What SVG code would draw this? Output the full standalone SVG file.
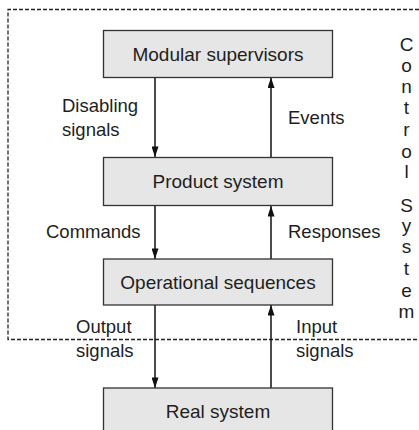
<svg xmlns="http://www.w3.org/2000/svg" width="419" height="430" viewBox="0 0 419 430">
<style>
.box{fill:#e6e6e6;stroke:#333;stroke-width:1.3}
.bt{font-family:"Liberation Sans",Arial,sans-serif;font-size:19px;fill:#1e1e1e;text-anchor:middle}
.lb{font-family:"Liberation Sans",Arial,sans-serif;font-size:18.5px;fill:#1e1e1e}
.vt{font-family:"Liberation Sans",Arial,sans-serif;font-size:19px;fill:#1e1e1e;text-anchor:middle}
.ar{stroke:#111;stroke-width:1.5;fill:none}
.frame{fill:none;stroke:#222;stroke-width:1.3;stroke-dasharray:4 2}
</style>
<defs>
<marker id="ah" viewBox="0 0 12 8" refX="12" refY="4" markerWidth="12" markerHeight="7" markerUnits="userSpaceOnUse" orient="auto">
<path d="M0,0 L12,4 L0,8 Z" fill="#111"/>
</marker>
</defs>
<g id="control-system">
<path class="frame" d="M425,9.5 H8 V339.5 H425"/>
<text class="vt" x="406.5" y="51">C</text>
<text class="vt" x="406.5" y="72">o</text>
<text class="vt" x="406.5" y="93">n</text>
<text class="vt" x="406.5" y="114">t</text>
<text class="vt" x="406.5" y="136">r</text>
<text class="vt" x="406.5" y="158">o</text>
<text class="vt" x="406.5" y="178">l</text>
<text class="vt" x="406.5" y="212">S</text>
<text class="vt" x="406.5" y="232">y</text>
<text class="vt" x="406.5" y="253">s</text>
<text class="vt" x="406.5" y="275">t</text>
<text class="vt" x="406.5" y="297">e</text>
<text class="vt" x="406.5" y="318">m</text>
</g>
<g id="connectors">
<line class="ar" x1="155" y1="77.5" x2="155" y2="157" marker-end="url(#ah)"/>
<line class="ar" x1="271" y1="157" x2="271" y2="77.5" marker-end="url(#ah)"/>
<line class="ar" x1="155" y1="206" x2="155" y2="259" marker-end="url(#ah)"/>
<line class="ar" x1="271" y1="259" x2="271" y2="206" marker-end="url(#ah)"/>
<line class="ar" x1="155" y1="305" x2="155" y2="388" marker-end="url(#ah)"/>
<line class="ar" x1="271" y1="388" x2="271" y2="305" marker-end="url(#ah)"/>
<text class="lb" x="62" y="112">Disabling</text>
<text class="lb" x="62" y="136">signals</text>
<text class="lb" x="288" y="124">Events</text>
<text class="lb" x="46" y="238">Commands</text>
<text class="lb" x="288" y="238">Responses</text>
<text class="lb" x="76" y="333">Output</text>
<text class="lb" x="76" y="357">signals</text>
<text class="lb" x="296" y="333">Input</text>
<text class="lb" x="296" y="357">signals</text>
</g>
<g id="modular-supervisors">
<rect class="box" x="103.5" y="30.5" width="229" height="47"/>
<text class="bt" x="218" y="61">Modular supervisors</text>
</g>
<g id="product-system">
<rect class="box" x="103.5" y="157.5" width="229" height="48"/>
<text class="bt" x="218" y="188">Product system</text>
</g>
<g id="operational-sequences">
<rect class="box" x="103.5" y="259" width="229" height="46"/>
<text class="bt" x="218" y="289">Operational sequences</text>
</g>
<g id="real-system">
<rect class="box" x="103.5" y="388" width="229" height="50"/>
<text class="bt" x="218" y="418">Real system</text>
</g>
</svg>
